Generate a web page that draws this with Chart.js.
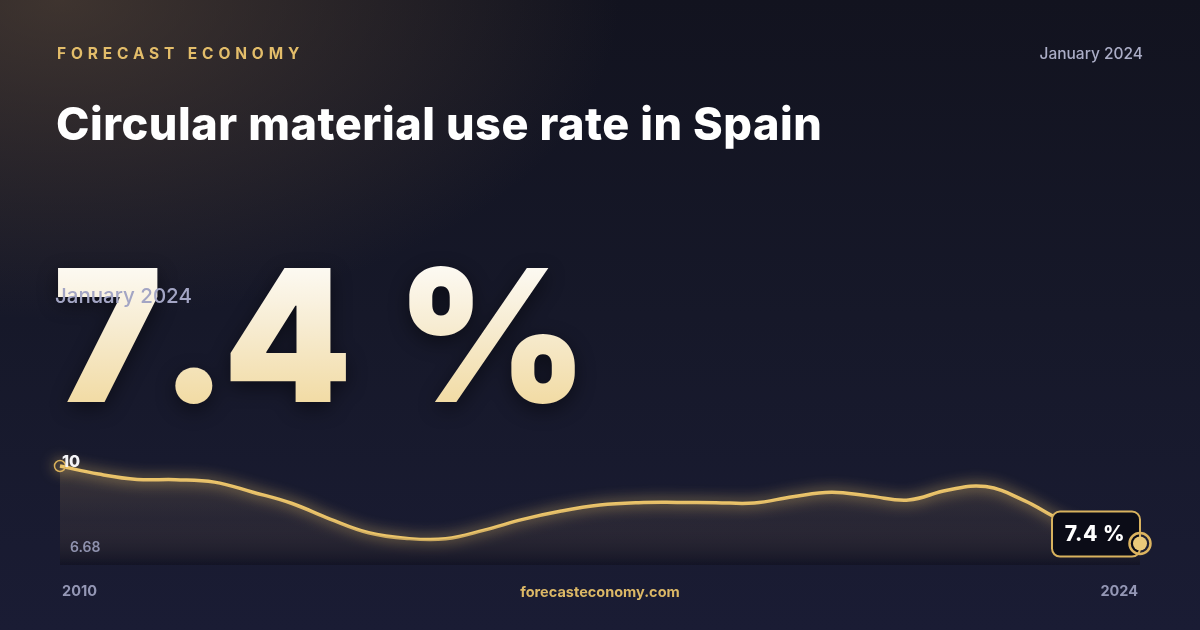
<!DOCTYPE html>
<html>
<head>
<meta charset="utf-8">
<script src="https://cdn.jsdelivr.net/npm/chart.js@4.4.1/dist/chart.umd.min.js"></script>
<style>
  html, body { margin: 0; padding: 0; }
  body { width: 1200px; height: 630px; overflow: hidden; font-family: Inter, "Noto Sans", sans-serif; }
  #card {
    position: relative; width: 1200px; height: 630px; overflow: hidden;
    background:
      radial-gradient(ellipse 560px 320px at 60px 0px, rgba(92, 74, 58, 0.6), rgba(92, 74, 58, 0) 100%),
      linear-gradient(180deg, #12131f 0%, #161829 50%, #1a1c34 100%);
  }
  #chartBox { position: absolute; left: 0; top: 0; width: 1200px; height: 630px; }
  .brand { position: absolute; left: 57px; top: 46px; font-size: 15.5px; font-weight: 700; letter-spacing: 4.85px; color: #e3bd6a; line-height: 1; }
  .date { position: absolute; right: 57px; top: 46px; font-size: 15.5px; font-weight: 500; color: #abadc6; line-height: 1; }
  .title { position: absolute; left: 56px; top: 101px; font-size: 45px; font-weight: 800; color: #ffffff; letter-spacing: 0.55px; line-height: 1; }
  .big {
    position: absolute; left: 53px; top: 243px; font-size: 184px; font-weight: 900; line-height: 1; white-space: pre;
    background: linear-gradient(180deg, #ffffff 0%, #f7ecd2 45%, #f0d696 100%);
    -webkit-background-clip: text; background-clip: text; color: transparent;
    filter: drop-shadow(0 6px 10px rgba(0, 0, 0, 0.45));
  }
  .big .seven { margin-right: -3px; }
  .big .dot { margin-right: -5px; }
  .big .four { margin-right: 7px; }
  .sub { position: absolute; left: 55px; top: 286px; font-size: 20.5px; font-weight: 500; color: #a3a5c4; line-height: 1; }
  .footer { position: absolute; left: 0; width: 1200px; text-align: center; top: 585px; font-size: 14.5px; font-weight: 700; color: #dcb866; line-height: 1; }
</style>
</head>
<body>
<div id="card">
  <div id="chartBox"><canvas id="rateChart"></canvas></div>
  <div class="brand">FORECAST ECONOMY</div>
  <div class="date">January 2024</div>
  <div class="title">Circular material use rate in Spain</div>
  <div class="big"><span class="seven">7</span><span class="dot">.</span><span class="four">4</span> %</div>
  <div class="sub">January 2024</div>
  <div class="footer">forecasteconomy.com</div>
</div>
<script>
// half-yearly readings of the circular material use rate (%), 2010 -> 2024
const periods = ['2010 H1', '2010 H2', '2011 H1', '2011 H2', '2012 H1', '2012 H2', '2013 H1', '2013 H2',
                 '2014 H1', '2014 H2', '2015 H1', '2015 H2', '2016 H1', '2016 H2', '2017 H1', '2017 H2',
                 '2018 H1', '2018 H2', '2019 H1', '2019 H2', '2020 H1', '2020 H2', '2021 H1', '2021 H2',
                 '2022 H1', '2022 H2', '2023 H1', '2023 H2', '2024 H1'];
const rateValues = [10.0, 9.73, 9.55, 9.54, 9.46, 9.12, 8.75, 8.22,
                    7.76, 7.57, 7.56, 7.85, 8.21, 8.49, 8.69, 8.77,
                    8.78, 8.77, 8.76, 8.97, 9.12, 8.99, 8.86, 9.19,
                    9.31, 8.84, 8.16, 7.75, 7.4];
const axisLabels = ['2010', '2024'];
const yBounds = [6.68, 10];
const latestLabel = '7.4 %';

const gold = '#ecc56a';

// glow for the line only
const glowPlugin = {
    id: 'glow',
    beforeDatasetDraw(chart, args) {
        if (args.index !== 1) return;
        const c = chart.ctx;
        c.save();
        c.shadowColor = 'rgba(245, 205, 110, 0.95)';
        c.shadowBlur = 14;
    },
    afterDatasetDraw(chart, args) {
        if (args.index !== 1) return;
        chart.ctx.restore();
    }
};

// axis labels, end badge and end marker
const decorPlugin = {
    id: 'decor',
    afterDatasetsDraw(chart) {
        const c = chart.ctx;
        const x = chart.scales.x, y = chart.scales.y;
        const area = chart.chartArea;
        c.save();
        c.textBaseline = 'middle';

        // y labels (max top-left, min bottom-left)
        c.font = '800 16px Inter';
        c.fillStyle = '#f4f4f8';
        c.textAlign = 'left';
        c.fillText(String(yBounds[1]), area.left + 2, y.getPixelForValue(yBounds[1]) - 4);
        c.font = '600 14px Inter';
        c.fillStyle = '#8f92ae';
        c.fillText(yBounds[0].toFixed(2), area.left + 10, y.getPixelForValue(yBounds[0]) - 17);

        // x labels at the ends
        c.font = '700 14.5px Inter';
        c.fillStyle = '#9497b5';
        c.fillText(axisLabels[0], x.getPixelForValue(0) + 2, 592);
        c.textAlign = 'right';
        c.fillText(axisLabels[1], x.getPixelForValue(periods.length - 1) - 2, 592);

        // badge with latest value
        const meta = chart.getDatasetMeta(1);
        const pt = meta.data[meta.data.length - 1];
        const bx = pt.x - 88, by = pt.y - 32, bw = 88, bh = 45;
        c.beginPath();
        c.roundRect(bx, by, bw, bh, 8);
        c.fillStyle = '#0b0c17';
        c.fill();
        c.lineWidth = 2;
        c.strokeStyle = '#d8b25e';
        c.stroke();
        c.font = '800 21px Inter';
        c.fillStyle = '#ffffff';
        c.textAlign = 'center';
        c.letterSpacing = '0.5px';
        c.fillText(latestLabel, bx + bw / 2 - 1, by + bh / 2 + 1);
        c.letterSpacing = '0px';

        // end marker: filled dot + ring
        c.beginPath();
        c.arc(pt.x, pt.y, 10.5, 0, Math.PI * 2);
        c.lineWidth = 2.5;
        c.strokeStyle = '#dcb460';
        c.stroke();
        c.beginPath();
        c.arc(pt.x, pt.y, 7, 0, Math.PI * 2);
        c.fillStyle = '#eac97a';
        c.fill();
        c.restore();
    }
};

const ctx = document.getElementById('rateChart').getContext('2d');
const areaFill = ctx.createLinearGradient(0, 466, 0, 565);
areaFill.addColorStop(0, 'rgba(220, 180, 110, 0.18)');
areaFill.addColorStop(0.55, 'rgba(150, 120, 85, 0.13)');
areaFill.addColorStop(1, 'rgba(8, 8, 16, 0.35)');

new Chart(ctx, {
    type: 'line',
    data: {
        labels: periods,
        datasets: [{
            data: rateValues,
            fill: 'start',
            backgroundColor: areaFill,
            borderWidth: 0,
            pointRadius: 0,
            tension: 0.4
        }, {
            data: rateValues,
            fill: false,
            clip: false,
            borderColor: gold,
            borderWidth: 3.5,
            tension: 0.4,
            pointRadius: (c) => c.dataIndex === 0 ? 5.5 : 0,
            pointBackgroundColor: 'rgba(0,0,0,0)',
            pointBorderColor: '#d9b05a',
            pointBorderWidth: 1.5
        }]
    },
    options: {
        responsive: true,
        maintainAspectRatio: false,
        animation: false,
        layout: { padding: { left: 60, right: 60, top: 466, bottom: 65 } },
        plugins: { legend: { display: false }, tooltip: { enabled: false } },
        scales: {
            x: { display: false, offset: false },
            y: { display: false, min: yBounds[0], max: yBounds[1] }
        }
    },
    plugins: [glowPlugin, decorPlugin]
});
</script>
</body>
</html>
